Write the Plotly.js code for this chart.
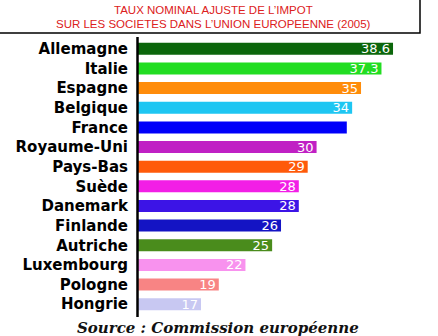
<!DOCTYPE html>
<html><head><meta charset="utf-8">
<script src="https://cdn.plot.ly/plotly-3.0.1.min.js"></script>
<style>html,body{margin:0;padding:0;background:#fff}#c{width:438px;height:336px}</style>
</head><body><div id="c"></div>
<script>
const countries = ["Allemagne","Italie","Espagne","Belgique","France","Royaume-Uni","Pays-Bas","Suède","Danemark","Finlande","Autriche","Luxembourg","Pologne","Hongrie"];
const rates = [38.6, 37.3, 35, 34, 33.4, 30, 29, 28, 28, 26, 25, 22, 19, 17];
const valueLabels = ["38.6","37.3","35","34","","30","29","28","28","26","25","22","19","17"];
const barColors = ["#0b660b","#22dd22","#ff8c0a","#1ec6f2","#0000fa","#c020c4","#ff5a0a","#f21ee6","#3c14e6","#1414c4","#4a8c1c","#f892ee","#f88484","#c8c8f2"];

const W = 438, H = 336, L = 137, R = 420, T = 39, B = 314;
const px = x => (x - L) / (R - L);
const py = y => (B - y) / (B - T);

const trace = {
  type: "bar", orientation: "h",
  y: countries, x: rates,
  text: valueLabels, textposition: "inside", insidetextanchor: "end",
  textfont: {family: "DejaVu Sans", size: 13, color: "#ffffff"},
  marker: {color: barColors, line: {width: 0}},
  cliponaxis: false, hoverinfo: "none"
};

const layout = {
  width: W, height: H,
  margin: {l: L, r: W - R, t: T, b: H - B, pad: 0},
  paper_bgcolor: "#ffffff", plot_bgcolor: "#ffffff",
  bargap: 0.39, showlegend: false,
  uniformtext: {mode: "show", minsize: 13},
  xaxis: {range: [9.8, 9.8 + (R - L) / 8.89], visible: false, fixedrange: true},
  yaxis: {autorange: "reversed", showgrid: false, zeroline: false, showline: false,
          ticks: "", ticklabelstandoff: 8,
          tickfont: {family: "DejaVu Sans", size: 15, color: "#000", weight: "bold"}},
  shapes: [
    {type: "rect", xref: "paper", yref: "paper", x0: px(-2), x1: px(420), y0: py(33), y1: py(-2),
     line: {color: "#000", width: 1.5}, fillcolor: "rgba(0,0,0,0)"},
    {type: "line", xref: "paper", yref: "paper", x0: px(137.5), x1: px(137.5), y0: py(37), y1: py(317),
     line: {color: "#000", width: 2.5}}
  ],
  annotations: [
    {xref: "paper", yref: "paper", x: px(213), y: py(10), text: "TAUX NOMINAL AJUSTE DE L’IMPOT",
     showarrow: false, xanchor: "center", yanchor: "middle",
     font: {family: "Liberation Sans", size: 11.5, color: "#dc2020"}},
    {xref: "paper", yref: "paper", x: px(213), y: py(24), text: "SUR LES SOCIETES DANS L’UNION EUROPEENNE (2005)",
     showarrow: false, xanchor: "center", yanchor: "middle",
     font: {family: "Liberation Sans", size: 11.5, color: "#dc2020"}},
    {xref: "paper", yref: "paper", x: px(218), y: py(328), text: "<b><i>Source : Commission européenne</i></b>",
     showarrow: false, xanchor: "center", yanchor: "middle",
     font: {family: "DejaVu Serif", size: 15, color: "#111"}}
  ]
};

Plotly.newPlot("c", [trace], layout, {displayModeBar: false, staticPlot: true});
</script></body></html>
